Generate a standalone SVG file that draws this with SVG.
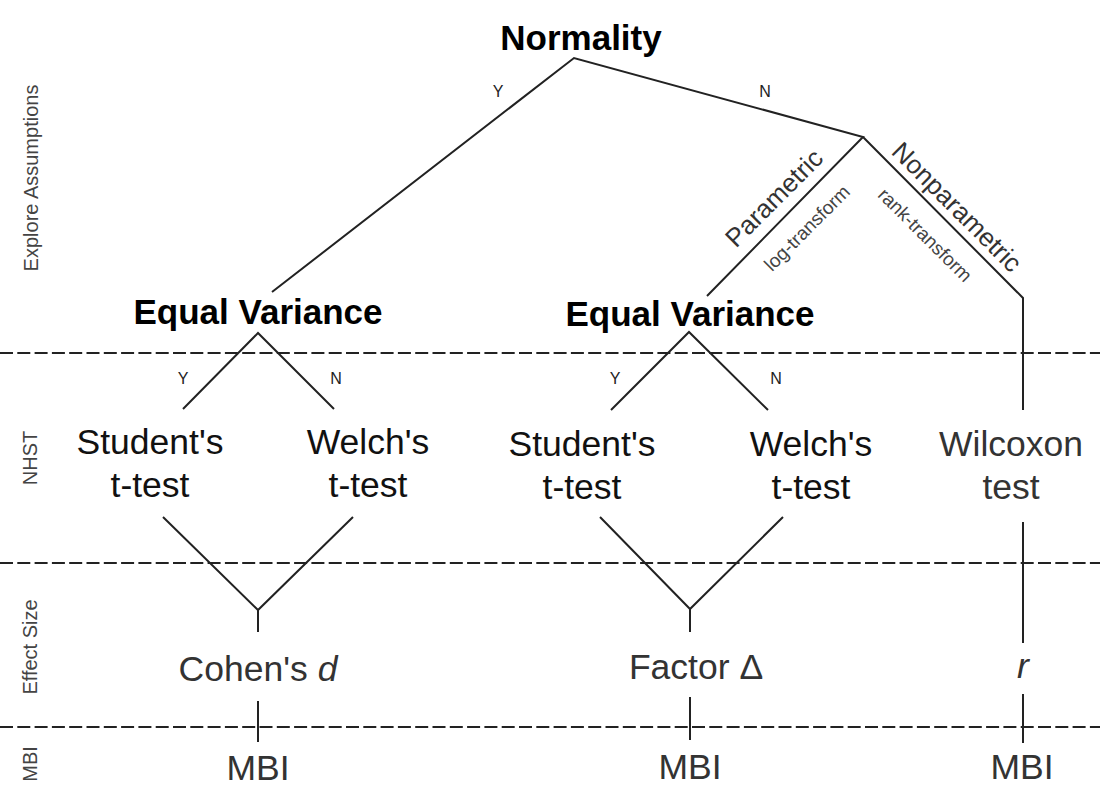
<svg xmlns="http://www.w3.org/2000/svg" width="1100" height="800" viewBox="0 0 1100 800">
<style>
  text { font-family: "Liberation Sans", Arial, sans-serif; }
  .title { font-size: 35px; font-weight: bold; fill: #000; text-anchor: middle; }
  .main { font-size: 35.5px; fill: #111; text-anchor: middle; }
  .grey { font-size: 35.5px; fill: #333; text-anchor: middle; }
  .yn { font-size: 16px; fill: #222; text-anchor: middle; }
  .big { font-size: 26px; fill: #333; text-anchor: middle; dominant-baseline: central; }
  .small { font-size: 19px; fill: #444; text-anchor: middle; dominant-baseline: central; }
  .side { font-size: 20px; fill: #444; text-anchor: middle; dominant-baseline: central; }
  .ln { stroke: #222; stroke-width: 2; fill: none; }
  .dash { stroke: #222; stroke-width: 1.8; stroke-dasharray: 13 4.3; fill: none; }
</style>
<rect width="1100" height="800" fill="#fff"/>

<g id="separators">
  <line class="dash" x1="0" y1="353" x2="1100" y2="353"/>
  <line class="dash" x1="0" y1="563" x2="1100" y2="563"/>
  <line class="dash" x1="0" y1="727" x2="1100" y2="727"/>
</g>

<g id="side-labels">
  <text class="side" transform="translate(31,178) rotate(-90)">Explore Assumptions</text>
  <text class="side" transform="translate(30,458) rotate(-90)">NHST</text>
  <text class="side" transform="translate(30,647) rotate(-90)">Effect Size</text>
  <text class="side" transform="translate(30,764) rotate(-90)">MBI</text>
</g>

<g id="connectors">
  <polyline class="ln" points="272,292 574,58 863,137 707,296"/>
  <polyline class="ln" points="863,137 1023,298 1023,410"/>
  <polyline class="ln" points="183,409 258,333 334,409"/>
  <polyline class="ln" points="611,410 689,332 768,410"/>
  <polyline class="ln" points="163,517 258,610 353,517"/>
  <line class="ln" x1="258" y1="610" x2="258" y2="632"/>
  <polyline class="ln" points="600,517 690,609 783,517"/>
  <line class="ln" x1="690" y1="609" x2="690" y2="632"/>
  <line class="ln" x1="1023" y1="522" x2="1023" y2="643"/>
  <line class="ln" x1="258" y1="701" x2="258" y2="742"/>
  <line class="ln" x1="690" y1="697" x2="690" y2="740"/>
  <line class="ln" x1="1023" y1="694" x2="1023" y2="743"/>
  <text class="yn" x="498" y="97">Y</text>
  <text class="yn" x="765" y="97">N</text>
  <text class="yn" x="183" y="384">Y</text>
  <text class="yn" x="336" y="384">N</text>
  <text class="yn" x="615" y="384">Y</text>
  <text class="yn" x="776" y="384">N</text>
  <text class="big" transform="translate(774,198) rotate(-45)">Parametric</text>
  <text class="small" transform="translate(807,228) rotate(-45)">log-transform</text>
  <text class="big" transform="translate(957,207) rotate(45)">Nonparametric</text>
  <text class="small" transform="translate(925,235) rotate(45)">rank-transform</text>
</g>

<g id="normality"><text class="title" x="581" y="50">Normality</text></g>
<g id="equal-variance-1"><text class="title" x="258" y="324">Equal Variance</text></g>
<g id="equal-variance-2"><text class="title" x="690" y="326">Equal Variance</text></g>

<g id="students-1"><text class="main" x="150" y="454">Student's</text><text class="main" x="150" y="497">t-test</text></g>
<g id="welchs-1"><text class="main" x="368" y="454">Welch's</text><text class="main" x="368" y="497">t-test</text></g>
<g id="students-2"><text class="main" x="582" y="456">Student's</text><text class="main" x="582" y="499">t-test</text></g>
<g id="welchs-2"><text class="main" x="811" y="456">Welch's</text><text class="main" x="811" y="499">t-test</text></g>
<g id="wilcoxon"><text class="grey" x="1011" y="456">Wilcoxon</text><text class="grey" x="1011" y="499">test</text></g>

<g id="cohens-d"><text class="grey" x="258" y="681">Cohen's <tspan font-style="italic">d</tspan></text></g>
<g id="factor-delta"><text class="grey" x="696" y="679">Factor Δ</text></g>
<g id="r"><text class="grey" x="1023" y="678" font-style="italic">r</text></g>

<g id="mbi-1"><text class="grey" x="258" y="780">MBI</text></g>
<g id="mbi-2"><text class="grey" x="690" y="779">MBI</text></g>
<g id="mbi-3"><text class="grey" x="1022" y="779">MBI</text></g>
</svg>
